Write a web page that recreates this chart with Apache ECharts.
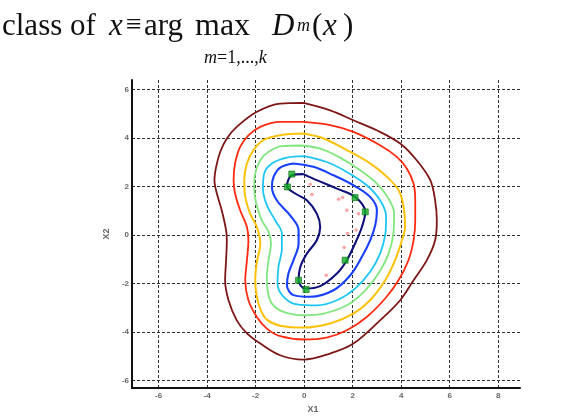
<!DOCTYPE html>
<html>
<head>
<meta charset="utf-8">
<script src="https://cdn.jsdelivr.net/npm/echarts@6/dist/echarts.min.js"></script>
<style>
  html, body { margin: 0; padding: 0; background: #fff; }
  #chart { width: 561px; height: 419px; }
</style>
</head>
<body>
<div id="chart"></div>
<script>
// tick values of the two axes
const xTicks = [-6, -4, -2, 0, 2, 4, 6, 8];
const yTicks = [-6, -4, -2, 0, 2, 4, 6];

// contour levels (outer -> inner), [x1, x2]
const ringMaroon = [[-0.03,5.46],[1.07,5.15],[2.03,4.74],[2.99,4.33],[3.96,3.78],[4.64,3.09],[5.2,2.27],[5.4,1.44],[5.47,0.62],[5.4,-0.21],[5.06,-1.03],[4.51,-1.86],[3.96,-2.68],[3.13,-3.51],[2.03,-4.47],[1.07,-4.88],[-0.03,-5.13],[-0.99,-4.95],[-1.81,-4.47],[-2.36,-4.05],[-2.78,-3.51],[-3.12,-2.68],[-3.26,-1.86],[-3.22,-1.03],[-3.19,-0.21],[-3.22,0.21],[-3.4,1.03],[-3.6,1.72],[-3.7,2.27],[-3.63,2.82],[-3.46,3.44],[-3.19,3.99],[-2.78,4.47],[-1.95,5.09],[-0.99,5.43]];
const ringRed = [[-0.03,4.67],[1.07,4.54],[2.03,4.26],[3.13,3.71],[3.82,3.23],[4.23,2.75],[4.51,2.13],[4.58,1.44],[4.58,0.62],[4.51,-0.21],[4.3,-1.03],[3.89,-1.86],[3.34,-2.61],[2.58,-3.37],[1.76,-3.92],[0.93,-4.22],[0,-4.3],[-0.99,-4.16],[-1.54,-3.85],[-1.95,-3.37],[-2.3,-2.68],[-2.43,-1.86],[-2.36,-1.03],[-2.3,-0.21],[-2.36,0.34],[-2.64,1.03],[-2.85,1.72],[-2.91,2.27],[-2.85,2.96],[-2.64,3.64],[-2.3,4.12],[-1.81,4.47],[-0.99,4.67]];
const ringYellow = [[-0.03,4.19],[0.8,3.99],[1.76,3.51],[2.72,2.96],[3.41,2.41],[3.89,1.86],[4.1,1.17],[4.16,0.34],[4.03,-0.21],[3.75,-1.03],[3.34,-1.86],[2.72,-2.68],[2.03,-3.23],[1.07,-3.64],[-0.03,-3.81],[-0.99,-3.73],[-1.54,-3.48],[-1.79,-3.09],[-1.95,-2.54],[-2.02,-1.86],[-1.95,-1.1],[-1.81,-0.34],[-1.95,0.34],[-2.23,0.89],[-2.43,1.58],[-2.47,2.27],[-2.36,2.96],[-2.09,3.51],[-1.68,3.92],[-0.99,4.12]];
const ringGreen = [[-0.16,3.7],[0.66,3.57],[1.48,3.2],[2.31,2.68],[3,2.13],[3.48,1.51],[3.71,0.89],[3.68,0.07],[3.48,-0.76],[3.11,-1.51],[2.52,-2.27],[1.76,-2.89],[0.8,-3.23],[-0.03,-3.3],[-0.85,-3.16],[-1.33,-2.82],[-1.51,-2.27],[-1.54,-1.72],[-1.47,-1.03],[-1.37,-0.34],[-1.47,0.14],[-1.75,0.62],[-1.98,1.31],[-2.06,1.99],[-2.02,2.54],[-1.81,3.09],[-1.47,3.44],[-0.92,3.67]];
const ringCyan = [[0,3.26],[0.93,3.02],[1.76,2.61],[2.58,2.06],[3.13,1.44],[3.38,0.76],[3.34,0],[3.13,-0.76],[2.72,-1.51],[2.1,-2.2],[1.35,-2.68],[0.52,-2.89],[-0.3,-2.85],[-0.85,-2.54],[-1.1,-1.99],[-1.06,-1.31],[-0.92,-0.55],[-0.92,0.07],[-1.2,0.62],[-1.54,1.24],[-1.7,1.92],[-1.65,2.54],[-1.33,2.96],[-0.71,3.2]];
const ringBlue = [[-0.44,2.96],[0.38,2.82],[1.21,2.47],[2.03,2.06],[2.72,1.58],[3,1.03],[2.93,0.41],[2.72,-0.21],[2.38,-0.89],[1.9,-1.65],[1.21,-2.27],[0.25,-2.54],[-0.44,-2.47],[-0.71,-2.06],[-0.65,-1.58],[-0.44,-1.03],[-0.23,-0.34],[-0.23,0.21],[-0.58,0.82],[-1.13,1.44],[-1.33,1.99],[-1.26,2.41],[-0.99,2.79]];
const ringNavy = [[-0.03,2.52],[0.52,2.27],[1.35,1.92],[2.1,1.58],[2.52,0.96],[2.38,0.34],[2.1,-0.34],[1.76,-1.03],[1.35,-1.58],[0.66,-2.1],[0.04,-2.2],[-0.23,-1.86],[-0.16,-1.31],[0.11,-0.76],[0.52,-0.21],[0.66,0.34],[0.52,0.89],[0.11,1.44],[-0.37,1.72],[-0.71,2.02],[-0.51,2.47]];

// support vectors (green) and the other training points (pink)
const supportPts = [[-0.51,2.52],[-0.69,1.99],[2.1,1.55],[2.52,0.96],[1.69,-1.03],[-0.23,-1.86],[0.08,-2.24]];
const trainPts = [[0.25,2.1],[0.32,1.68],[1.42,1.48],[1.58,1.55],[1.76,1.03],[2.24,0.89],[2.14,0.21],[1.79,0.07],[1.65,-0.51],[0.91,-1.65]];

const rings = [
  { pts: ringMaroon, color: "#7d1616", width: 1.8 },
  { pts: ringRed, color: "#ff2a10", width: 1.8 },
  { pts: ringYellow, color: "#fcc20a", width: 2 },
  { pts: ringGreen, color: "#82e67e", width: 1.8 },
  { pts: ringCyan, color: "#1ec6f6", width: 1.8 },
  { pts: ringBlue, color: "#1840ff", width: 2.1 },
  { pts: ringNavy, color: "#10107a", width: 2.1 }
];

let myChart = echarts.init(document.getElementById("chart"));

const serif = "'Liberation Serif', 'DejaVu Serif', serif";
const txt = (x, y, text, size, italic) => ({
  type: "text",
  left: x,
  top: y,
  style: { text, fontFamily: serif, fontSize: size, fontStyle: italic ? "italic" : "normal", fill: "#111" }
});

const axisCommon = {
  axisLine: { onZero: false, lineStyle: { color: "#111", width: 2 } },
  axisTick: { inside: true, length: 3, lineStyle: { color: "#222" } },
  axisLabel: { fontSize: 8, color: "#666", fontWeight: "bold", fontFamily: "'Liberation Sans', Arial" },
  splitLine: { show: true, lineStyle: { color: "#333", width: 1, type: [3, 2] } },
  nameTextStyle: { fontSize: 9, color: "#666", fontWeight: "bold", fontFamily: "'Liberation Sans', Arial" }
};

let option = {
  animation: false,
  backgroundColor: "#fff",
  graphic: [
    txt(2, 11, "class of", 31, false),
    txt(109, 11, "x", 31, true),
    txt(126, 12, "\u2261", 28, false),
    txt(144, 11, "arg", 31, false),
    txt(195, 11, "max", 32, false),
    {
      type: "text",
      left: 204,
      top: 49,
      style: {
        text: "{i|m}{r|=1,...,}{i|k}",
        rich: {
          i: { fontFamily: serif, fontSize: 18, fontStyle: "italic", fill: "#111" },
          r: { fontFamily: serif, fontSize: 18, fill: "#111" }
        }
      }
    },
    txt(272, 11, "D", 31, true),
    txt(297, 17, "m", 18, true),
    txt(312, 11, "(", 31, false),
    txt(323, 11, "x", 31, true),
    txt(343, 11, ")", 31, false)
  ],
  grid: { left: 132, top: 80, width: 388, height: 308, containLabel: false },
  xAxis: Object.assign({}, axisCommon, {
    type: "value",
    min: -7.1,
    max: 8.9,
    axisTick: Object.assign({}, axisCommon.axisTick, { customValues: xTicks }),
    axisLabel: Object.assign({}, axisCommon.axisLabel, { customValues: xTicks, margin: 4 }),
    name: "X1",
    nameLocation: "middle",
    nameGap: 16,
    nameTextStyle: Object.assign({}, axisCommon.nameTextStyle, { padding: [0, 26, 0, 0] })
  }),
  yAxis: Object.assign({}, axisCommon, {
    type: "value",
    min: -6.3,
    max: 6.4,
    axisTick: Object.assign({}, axisCommon.axisTick, { customValues: yTicks }),
    axisLabel: Object.assign({}, axisCommon.axisLabel, { customValues: yTicks, margin: 3 }),
    name: "X2",
    nameLocation: "middle",
    nameGap: 14
  }),
  series: rings.map(r => ({
    type: "line",
    data: r.pts.concat([r.pts[0]]),
    smooth: 0.35,
    showSymbol: false,
    lineStyle: { color: r.color, width: r.width },
    z: 3
  })).concat([
    {
      type: "scatter",
      data: trainPts,
      symbol: "circle",
      symbolSize: 3.5,
      itemStyle: { color: "#ff8a8a" },
      z: 4
    },
    {
      type: "scatter",
      data: supportPts,
      symbol: "rect",
      symbolSize: 6,
      itemStyle: { color: "#10b020", borderColor: "#0a6a10", borderWidth: 0.8 },
      z: 5
    }
  ])
};
myChart.setOption(option);
</script>
</body>
</html>
